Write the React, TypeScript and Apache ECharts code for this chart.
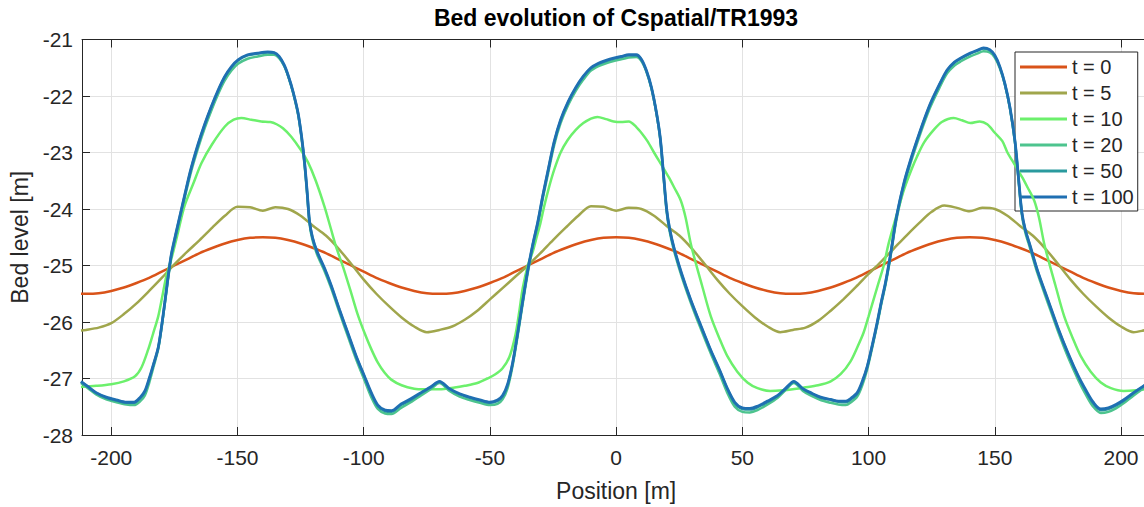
import React, { useEffect, useRef } from "react";
import * as echarts from "echarts";

// ---------- data ----------
const seriesNames = ["t = 0", "t = 5", "t = 10", "t = 20", "t = 50", "t = 100"];
const seriesColors = ["#D95319", "#A0A64C", "#6CF06C", "#4DC48E", "#2A9A9E", "#1F6FB2"];

// shared grid for the two early, gentle profiles
const gridX = [
  -212, -210, -205, -200, -195, -190, -185, -180, -175, -170, -165, -160, -155, -150, -145,
  -140, -135, -130, -125, -120, -115, -110, -105, -100, -95, -90, -85, -80, -75, -70,
  -65, -60, -55, -50, -45, -40, -35, -30, -25, -20, -15, -10, -5, 0,
  5, 10, 15, 20, 25, 30, 35, 40, 45, 50, 55, 60, 65, 70,
  75, 80, 85, 90, 95, 100, 105, 110, 115, 120, 125, 130, 135, 140,
  145, 150, 155, 160, 165, 170, 175, 180, 185, 190, 195, 200, 205, 210, 212,
];

const t0Y = [
  -25.5, -25.5, -25.49, -25.45, -25.39, -25.31, -25.22, -25.11, -25.0, -24.89, -24.78, -24.69, -24.61, -24.55, -24.51,
  -24.5, -24.51, -24.55, -24.61, -24.69, -24.78, -24.89, -25.0, -25.11, -25.22, -25.31, -25.39, -25.45, -25.49, -25.5,
  -25.49, -25.45, -25.39, -25.31, -25.22, -25.11, -25.0, -24.89, -24.78, -24.69, -24.61, -24.55, -24.51, -24.5,
  -24.51, -24.55, -24.61, -24.69, -24.78, -24.89, -25.0, -25.11, -25.22, -25.31, -25.39, -25.45, -25.49, -25.5,
  -25.49, -25.45, -25.39, -25.31, -25.22, -25.11, -25.0, -24.89, -24.78, -24.69, -24.61, -24.55, -24.51, -24.5,
  -24.51, -24.55, -24.61, -24.69, -24.78, -24.89, -25.0, -25.11, -25.22, -25.31, -25.39, -25.45, -25.49, -25.5, -25.5,
];

const t5Y = [
  -26.15, -26.14, -26.1, -26.02, -25.86, -25.67, -25.45, -25.22, -24.98, -24.76, -24.55, -24.33, -24.12, -23.96, -23.97,
  -24.03, -23.97, -24.0, -24.12, -24.3, -24.47, -24.7, -24.97, -25.25, -25.5, -25.72, -25.92, -26.08, -26.18, -26.14,
  -26.08, -25.96, -25.8, -25.6, -25.4, -25.2, -25.0, -24.78, -24.55, -24.33, -24.12, -23.95, -23.96, -24.03,
  -23.98, -24.0, -24.12, -24.3, -24.47, -24.7, -24.97, -25.25, -25.5, -25.72, -25.92, -26.08, -26.18, -26.14,
  -26.1, -25.98, -25.8, -25.6, -25.38, -25.15, -24.93, -24.7, -24.47, -24.25, -24.05, -23.94, -23.98, -24.04,
  -23.98, -24.0, -24.12, -24.3, -24.47, -24.7, -24.97, -25.25, -25.5, -25.72, -25.92, -26.08, -26.18, -26.14, -26.13,
];

const t10Points: [number, number][] = [
  [-212, -27.15], [-206, -27.13], [-200, -27.1], [-195, -27.05], [-190.6, -26.96], [-188, -26.8],
  [-185.4, -26.49], [-183.4, -26.2], [-181.4, -25.9], [-179.8, -25.55], [-178.2, -25.19], [-176, -24.85],
  [-173.5, -24.4], [-171, -23.95], [-167.5, -23.55], [-164.3, -23.19], [-160, -22.85], [-155, -22.54],
  [-151.5, -22.42], [-148.5, -22.39], [-144.5, -22.42], [-140.6, -22.45], [-137, -22.46], [-134.5, -22.5],
  [-132, -22.57], [-128.7, -22.72], [-125, -22.95], [-122, -23.18], [-119, -23.5], [-115.6, -23.95],
  [-113, -24.35], [-111, -24.66], [-108, -25.05], [-105, -25.48], [-102.5, -25.85], [-99.7, -26.19],
  [-97, -26.48], [-94.4, -26.72], [-91.7, -26.9], [-89.1, -27.02], [-85, -27.12], [-80, -27.18],
  [-76, -27.19], [-70, -27.19], [-64, -27.16], [-60, -27.13], [-55, -27.08], [-51, -27.0],
  [-48, -26.93], [-45, -26.82], [-42.3, -26.62], [-40, -26.25], [-38.5, -25.85], [-37, -25.4],
  [-35, -25.0], [-33, -24.75], [-31.8, -24.55], [-30, -24.25], [-28.5, -23.95], [-26.5, -23.6],
  [-24.5, -23.3], [-22, -23.0], [-19.2, -22.78], [-16, -22.6], [-13, -22.48], [-10, -22.4],
  [-7.4, -22.37], [-4, -22.41], [-1, -22.45], [2, -22.46], [5, -22.45], [8, -22.55],
  [10.5, -22.68], [12.4, -22.8], [15, -23.0], [17, -23.15], [19, -23.3], [21, -23.45],
  [23, -23.62], [25.6, -23.85], [27.5, -24.15], [29.5, -24.6], [31.5, -24.95], [34, -25.35],
  [37.5, -25.9], [41, -26.3], [44, -26.6], [48, -26.88], [52, -27.07], [56, -27.17],
  [61, -27.22], [66, -27.21], [70, -27.19], [74.4, -27.16], [80, -27.12], [85, -27.05],
  [89, -26.92], [92.8, -26.7], [95.5, -26.45], [98, -26.19], [100, -25.9], [102, -25.6],
  [104, -25.3], [106, -25.0], [108, -24.6], [111, -24.12], [114, -23.66], [117, -23.3],
  [119.2, -23.07], [122, -22.82], [125.8, -22.6], [129, -22.46], [133.7, -22.39], [137, -22.43],
  [140.3, -22.48], [144, -22.45], [147, -22.5], [150, -22.65], [153, -22.8], [155, -23.0],
  [157, -23.15], [159, -23.3], [161, -23.45], [163, -23.62], [165.6, -23.85], [167.5, -24.15],
  [169.5, -24.6], [171.5, -24.95], [174, -25.35], [177.5, -25.9], [181, -26.3], [184, -26.6],
  [188, -26.88], [192, -27.07], [196, -27.17], [201, -27.22], [206, -27.21], [212, -27.18],
];

// shared positions for the late (nearly coincident) profiles
const lateX = [
  -212, -209, -206, -202, -198, -194, -191, -188.5, -186.7, -185, -183.3, -181.4, -180, -178.8, -177.5, -176.2,
  -174.5, -172.7, -170.9, -168.5, -165.6, -163, -160.4, -157.7, -155.1, -152.4, -149.8, -146, -142, -138,
  -135.5, -133.5, -131.5, -129.8, -128, -126, -124.6, -123.4, -122.4, -121.5, -120.3, -118.5, -115.5, -112.9,
  -109.6, -106.3, -103, -99.7, -97, -94.4, -91.5, -89, -85.2, -81, -77.3, -73.5, -70,
  -66, -62, -58, -54, -50, -47, -45, -43, -41, -39, -37, -35, -33, -31, -29, -27, -24.5, -22, -19, -16, -13,
  -10, -7, -4, -1, 2, 5, 8, 10, 12, 14, 16, 17.5, 18.8, 20, 21.2, 23, 26, 29.5, 33, 37.5, 41, 44, 47, 50,
  53, 56, 60, 64, 67, 70.4, 74, 77, 81, 85, 88, 91, 93, 95.5, 97.5, 99.5, 101.5, 103.4, 105, 106.7, 108.7,
  111, 114, 116.5, 119.2, 122, 124.5, 128, 131.1, 134, 136.4, 140.3,
  143, 145.5, 148, 150, 152, 154, 156, 158, 159.5, 160.7, 162, 164, 167, 171, 175, 179, 183, 186, 189,
  192, 195, 198, 201, 205, 209, 212,
];

const t100Y = [
  -27.05, -27.15, -27.25, -27.33, -27.38, -27.42, -27.42, -27.33, -27.22, -27.0, -26.75, -26.45, -26.05, -25.65, -25.2, -24.8,
  -24.45, -24.1, -23.75, -23.3, -22.85, -22.5, -22.19, -21.9, -21.66, -21.48, -21.36, -21.27, -21.24, -21.22,
  -21.23, -21.3, -21.45, -21.65, -21.92, -22.3, -22.72, -23.19, -23.7, -24.2, -24.5, -24.75, -25.05, -25.35,
  -25.78, -26.19, -26.6, -26.96, -27.25, -27.47, -27.56, -27.57, -27.45, -27.35, -27.25, -27.15, -27.05,
  -27.18, -27.27, -27.33, -27.38, -27.42, -27.38, -27.3, -27.1, -26.72, -26.19, -25.62, -25.08, -24.62, -24.22, -23.75, -23.32, -22.8, -22.42, -22.1, -21.85, -21.65,
  -21.5, -21.42, -21.37, -21.33, -21.3, -21.27, -21.27, -21.35, -21.55, -21.85, -22.3, -22.75, -23.4, -24.0, -24.35, -24.7, -25.15, -25.6, -26.0, -26.5, -26.85, -27.17, -27.42, -27.52,
  -27.53, -27.49, -27.4, -27.3, -27.18, -27.05, -27.18, -27.25, -27.33, -27.37, -27.4, -27.4, -27.35, -27.25, -27.05, -26.78, -26.4, -26.01, -25.65, -25.3, -24.8,
  -24.15, -23.54, -23.15, -22.78, -22.42, -22.13, -21.8, -21.54, -21.4, -21.33, -21.24,
  -21.19, -21.15, -21.18, -21.28, -21.48, -21.78, -22.2, -22.8, -23.5, -24.05, -24.35, -24.65, -25.1, -25.6, -26.1, -26.55, -26.95, -27.2, -27.42,
  -27.54, -27.52, -27.46, -27.38, -27.25, -27.13, -27.05,
];

const t50Y = [
  -27.06, -27.16, -27.26, -27.34, -27.39, -27.43, -27.43, -27.35, -27.24, -27.02, -26.76, -26.45, -26.06, -25.66, -25.21, -24.81,
  -24.46, -24.11, -23.76, -23.31, -22.86, -22.51, -22.2, -21.91, -21.67, -21.49, -21.37, -21.28, -21.25, -21.23,
  -21.24, -21.31, -21.46, -21.66, -21.93, -22.31, -22.73, -23.2, -23.71, -24.21, -24.51, -24.76, -25.06, -25.36,
  -25.79, -26.2, -26.61, -26.97, -27.27, -27.49, -27.58, -27.59, -27.47, -27.37, -27.26, -27.16, -27.06,
  -27.19, -27.28, -27.34, -27.39, -27.43, -27.4, -27.32, -27.12, -26.73, -26.2, -25.63, -25.09, -24.63, -24.23, -23.76, -23.33, -22.81, -22.43, -22.11, -21.86, -21.66,
  -21.51, -21.43, -21.38, -21.34, -21.31, -21.28, -21.28, -21.36, -21.56, -21.86, -22.31, -22.76, -23.41, -24.01, -24.36, -24.71, -25.16, -25.61, -26.01, -26.51, -26.86, -27.18, -27.44, -27.54,
  -27.55, -27.51, -27.42, -27.31, -27.19, -27.06, -27.19, -27.26, -27.34, -27.38, -27.41, -27.42, -27.37, -27.27, -27.07, -26.79, -26.41, -26.02, -25.66, -25.31, -24.81,
  -24.16, -23.55, -23.16, -22.79, -22.43, -22.14, -21.81, -21.55, -21.41, -21.34, -21.25,
  -21.2, -21.16, -21.19, -21.29, -21.49, -21.79, -22.21, -22.81, -23.51, -24.06, -24.36, -24.66, -25.11, -25.61, -26.11, -26.56, -26.96, -27.22, -27.44,
  -27.56, -27.54, -27.48, -27.4, -27.26, -27.14, -27.06,
];

const t20Y = [
  -27.08, -27.18, -27.28, -27.37, -27.42, -27.46, -27.47, -27.4, -27.3, -27.08, -26.8, -26.48, -26.08, -25.68, -25.24, -24.84,
  -24.5, -24.15, -23.8, -23.36, -22.92, -22.57, -22.26, -21.97, -21.73, -21.55, -21.43, -21.34, -21.3, -21.27,
  -21.27, -21.33, -21.47, -21.67, -21.94, -22.33, -22.76, -23.24, -23.75, -24.25, -24.55, -24.8, -25.1, -25.4,
  -25.83, -26.25, -26.66, -27.03, -27.33, -27.54, -27.62, -27.63, -27.52, -27.41, -27.3, -27.19, -27.08,
  -27.22, -27.32, -27.38, -27.43, -27.47, -27.45, -27.37, -27.17, -26.77, -26.24, -25.67, -25.13, -24.67, -24.27, -23.8, -23.38, -22.86, -22.48, -22.16, -21.91, -21.71,
  -21.55, -21.47, -21.42, -21.38, -21.35, -21.32, -21.31, -21.38, -21.57, -21.87, -22.32, -22.78, -23.44, -24.05, -24.4, -24.75, -25.2, -25.65, -26.06, -26.56, -26.92, -27.25, -27.5, -27.59,
  -27.6, -27.56, -27.46, -27.34, -27.21, -27.08, -27.22, -27.3, -27.38, -27.43, -27.46, -27.47, -27.42, -27.32, -27.12, -26.83, -26.44, -26.05, -25.69, -25.34, -24.84,
  -24.2, -23.6, -23.21, -22.84, -22.48, -22.19, -21.86, -21.6, -21.46, -21.39, -21.3,
  -21.25, -21.21, -21.23, -21.32, -21.51, -21.8, -22.22, -22.83, -23.54, -24.1, -24.4, -24.7, -25.15, -25.66, -26.16, -26.62, -27.02, -27.28, -27.5,
  -27.61, -27.59, -27.53, -27.44, -27.3, -27.17, -27.08,
];

const yMin = -28;
const yMax = -21;
const xMin = -211.6;
const xMax = 211.6;

const titleText = "Bed evolution of Cspatial/TR1993";
const xName = "Position [m]";
const yName = "Bed level [m]";

const FONT = '"Liberation Sans", Arial, Helvetica, sans-serif';
const INK = "#262626";

function zipXY(xs: number[], ys: number[]): [number, number][] {
  return xs.map((x, i) => [x, ys[i]]);
}

export default function App() {
  const ref = useRef<HTMLDivElement>(null);

  useEffect(() => {
    if (!ref.current) return;
    const chart = echarts.init(ref.current, null, { renderer: "svg" });

    const seriesData: [number, number][][] = [
      zipXY(gridX, t0Y),
      zipXY(gridX, t5Y),
      t10Points,
      zipXY(lateX, t20Y),
      zipXY(lateX, t50Y),
      zipXY(lateX, t100Y),
    ];

    const axisLineStyle = { color: INK, width: 1 };

    chart.setOption({
      animation: false,
      backgroundColor: "#ffffff",
      textStyle: { fontFamily: FONT },
      grid: { left: 80.7, right: 1.7, top: 39.5, bottom: 71.3, containLabel: false },
      graphic: [
        {
          type: "text",
          x: 616,
          y: 18,
          style: {
            text: titleText,
            fontFamily: FONT,
            fontSize: 23,
            fontWeight: "bold",
            fill: "#000000",
            textAlign: "center",
            textVerticalAlign: "middle",
          },
        },
      ],
      legend: {
        orient: "vertical",
        left: 1015,
        top: 52,
        data: seriesNames,
        icon: "rect",
        itemWidth: 47,
        itemHeight: 3,
        itemGap: 6,
        textStyle: { fontSize: 20, color: INK, fontFamily: FONT, lineHeight: 20 },
        backgroundColor: "#ffffff",
        borderColor: INK,
        borderWidth: 1,
        borderRadius: 0,
        padding: [5, 4, 4, 5],
        selectedMode: false,
      },
      xAxis: [
        {
          type: "value",
          min: xMin,
          max: xMax,
          splitNumber: 8,
          name: xName,
          nameLocation: "middle",
          nameGap: 44,
          nameTextStyle: { fontSize: 23, color: INK, fontFamily: FONT },
          axisLine: { show: true, onZero: false, lineStyle: axisLineStyle },
          axisTick: { show: true, inside: true, length: 8, lineStyle: axisLineStyle },
          axisLabel: {
            color: INK,
            fontSize: 21,
            margin: 12,
            showMinLabel: false,
            showMaxLabel: false,
            formatter: (v: number) => (Math.abs(v % 50) < 1e-6 ? String(v) : ""),
          },
          splitLine: { show: true, lineStyle: { color: "#e2e2e2", width: 1 } },
        },
        {
          type: "value",
          position: "top",
          min: xMin,
          max: xMax,
          splitNumber: 8,
          axisLine: { show: true, onZero: false, lineStyle: axisLineStyle },
          axisTick: { show: true, inside: true, length: 8, lineStyle: axisLineStyle },
          axisLabel: { show: false },
          splitLine: { show: false },
        },
      ],
      yAxis: [
        {
          type: "value",
          min: yMin,
          max: yMax,
          interval: 1,
          name: yName,
          nameLocation: "middle",
          nameRotate: 90,
          nameGap: 51,
          nameTextStyle: { fontSize: 23, color: INK, fontFamily: FONT },
          axisLine: { show: true, onZero: false, lineStyle: axisLineStyle },
          axisTick: { show: true, inside: true, length: 8, lineStyle: axisLineStyle },
          axisLabel: { color: INK, fontSize: 21, margin: 9 },
          splitLine: { show: true, lineStyle: { color: "#e2e2e2", width: 1 } },
        },
      ],
      series: seriesNames.map((name, i) => ({
        name,
        type: "line",
        xAxisIndex: 0,
        yAxisIndex: 0,
        data: seriesData[i],
        showSymbol: false,
        symbol: "none",
        smooth: 0.3,
        clip: true,
        color: seriesColors[i],
        lineStyle: { color: seriesColors[i], width: i === 5 ? 2.8 : 2.5 },
        emphasis: { disabled: true },
        z: 2 + i,
      })),
    });

    return () => {
      chart.dispose();
    };
  }, []);

  return (
    <div
      style={{
        position: "fixed",
        left: 0,
        top: 0,
        width: 1144,
        height: 507,
        overflow: "hidden",
        background: "#ffffff",
      }}
    >
      <div ref={ref} style={{ width: 1152, height: 507 }} />
    </div>
  );
}
